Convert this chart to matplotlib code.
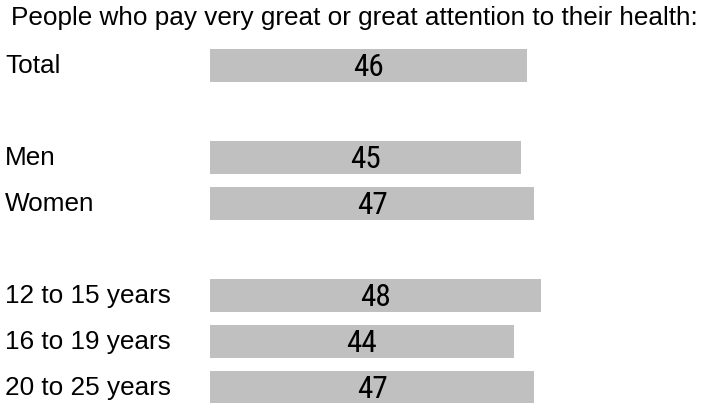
import matplotlib
matplotlib.use("Agg")
import matplotlib.pyplot as plt
from matplotlib import font_manager

title = "People who pay very great or great attention to their health:"
groups = ["Total", "Men", "Women", "12 to 15 years", "16 to 19 years", "20 to 25 years"]
slots = [0, 2, 3, 5, 6, 7]
values = [46, 45, 47, 48, 44, 47]

bar_color = "#C0C0C0"


def pick_font(candidates):
    installed = {f.name for f in font_manager.fontManager.ttflist}
    for name in candidates:
        if name in installed:
            return name
    return "DejaVu Sans"


sans = pick_font(["Arial", "Arimo", "Liberation Sans"])
narrow = pick_font(["Arial Narrow", "Liberation Sans Narrow", "Roboto Condensed",
                    "PT Sans Narrow", "Archivo Narrow", "Liberation Sans"])

fig = plt.figure(figsize=(7.05, 4.03), dpi=100)
fig.patch.set_facecolor("white")

# axes from the bar baseline to the right edge, full height
ax = fig.add_axes([210 / 705, 0, 495 / 705, 1])
ax.set_xlim(0, 495 / 6.9)
ax.set_ylim((403 - 65.5) / 46, -65.5 / 46)
ax.axis("off")

ax.barh(slots, values, height=0.72, color=bar_color, edgecolor="none")

for s, v in zip(slots, values):
    ax.text(v / 2, s + 0.05, str(v), ha="center", va="center",
            fontsize=22.5, family=narrow, color="black")

for s, g in zip(slots, groups):
    y = ax.transData.transform((0, s))[1] / fig.dpi / 4.03
    fig.text(5 / 705, y, g, ha="left", va="center", fontsize=18.8,
             family=sans, color="black")

fig.text(11 / 705, 1 - 25 / 403, title, ha="left", va="baseline",
         fontsize=18.8, family=sans, color="black")

fig.savefig("out.png", dpi=100, facecolor="white")
